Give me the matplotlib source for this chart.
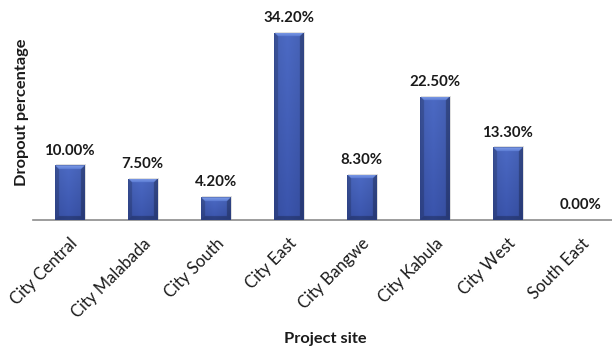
import numpy as np
import matplotlib
matplotlib.use("Agg")
import matplotlib.pyplot as plt

# Dropout percentage by project site
sites = ["City Central", "City Malabada", "City South", "City East",
         "City Bangwe", "City Kabula", "City West", "South East"]
dropout = [10.00, 7.50, 4.20, 34.20, 8.30, 22.50, 13.30, 0.00]
value_labels = ["10.00%", "7.50%", "4.20%", "34.20%", "8.30%", "22.50%", "13.30%", "0.00%"]

W, H, DPI = 612, 347, 100
fig = plt.figure(figsize=(W / DPI, H / DPI), dpi=DPI)
fig.patch.set_facecolor("white")

ax_left, ax_right = 33, 612
ax_base, ax_top = 220, 23
ax = fig.add_axes([ax_left / W, 1 - ax_base / H,
                   (ax_right - ax_left) / W, (ax_base - ax_top) / H])

x = np.arange(len(sites))
xlim = (-0.5, 7.43)
ylim = (0, 36)
ax.set_xlim(*xlim)
ax.set_ylim(*ylim)

bar_w = 0.4
bars = ax.bar(x, dropout, width=bar_w, color="#4a6cc4", edgecolor="none", zorder=2)

px_x = (ax_right - ax_left) / (xlim[1] - xlim[0])
px_y = (ax_base - ax_top) / (ylim[1] - ylim[0])


def bevel_image(wpx, hpx, ss=3, bev=4):
    """RGB image of a bevelled bar face, supersampled by ss."""
    w = max(int(round(wpx * ss)), 2)
    h = max(int(round(hpx * ss)), 2)
    b = bev * ss
    rows, cols = np.mgrid[0:h, 0:w].astype(float)
    t = rows / max(h - 1, 1)
    top_c = np.array([76, 106, 196]) / 255
    bot_c = np.array([58, 84, 172]) / 255
    img = top_c[None, None, :] * (1 - t[..., None]) + bot_c[None, None, :] * t[..., None]
    # horizontal soft shading
    u = cols / (w - 1)
    shade = 1 - 0.08 * np.abs(u - 0.45) * 2
    img = img * shade[..., None]

    top_band = (rows < b) & (cols >= rows) & (cols <= w - 1 - rows)
    bot_band = (rows > h - 1 - b) & (cols >= (h - 1 - rows)) & (cols <= w - 1 - (h - 1 - rows))
    left_band = (cols < b) & ~top_band & ~bot_band
    right_band = (cols > w - 1 - b) & ~top_band & ~bot_band

    tb = rows / b
    light = np.array([128, 158, 232]) / 255
    light2 = np.array([92, 124, 212]) / 255
    img[top_band] = (light[None, :] * (1 - tb[top_band][:, None])
                     + light2[None, :] * tb[top_band][:, None])
    img[left_band] = img[left_band] * 0.82
    img[right_band] = img[right_band] * 0.74
    img[bot_band] = img[bot_band] * 0.75
    # thin outline
    o = max(ss // 2, 1)
    edge = (rows < o) | (rows > h - 1 - o) | (cols < o) | (cols > w - 1 - o)
    img[edge] = np.array([45, 66, 135]) / 255
    return np.clip(img, 0, 1)


for xi, val, rect in zip(x, dropout, bars):
    if val <= 0:
        continue
    x0 = xi - bar_w / 2
    x1 = xi + bar_w / 2
    # soft drop shadow
    sx = 1.5 / px_x
    ax.add_patch(plt.Rectangle((x0 + sx, 0), bar_w, val + 0.15, color="#b8b8b8",
                               alpha=0.45, zorder=1.5, lw=0))
    img = bevel_image(bar_w * px_x, val * px_y)
    im = ax.imshow(img, extent=(x0, x1, 0, val), aspect="auto", zorder=3,
                   interpolation="antialiased", origin="upper")
    im.set_clip_path(rect)
    rect.set_alpha(0)

for xi, val, lab in zip(x, dropout, value_labels):
    ax.annotate(lab, (xi, val), xytext=(0, 5.5), textcoords="offset points",
                ha="center", va="bottom", fontsize=10.8, fontweight="bold",
                family="Lato", color="#1a1a1a")

for side in ("top", "right", "left"):
    ax.spines[side].set_visible(False)
ax.spines["bottom"].set_color("#8c8c8c")
ax.spines["bottom"].set_linewidth(1.2)
ax.set_yticks([])
ax.set_xticks(x)
ax.set_xticklabels(sites, rotation=45, ha="right", rotation_mode="anchor",
                   fontsize=12, family="Lato", color="#1a1a1a")
ax.tick_params(axis="x", length=0, pad=11)

fig.text(22 / W, 1 - 112 / H, "Dropout percentage", rotation=90, ha="center",
         va="center", fontsize=11.8, fontweight="bold", family="Lato", color="#1a1a1a")
fig.text(325 / W, 1 - 339 / H, "Project site", ha="center", va="center",
         fontsize=11.8, fontweight="bold", family="Lato", color="#1a1a1a")

fig.savefig("out.png", dpi=DPI, facecolor="white")
